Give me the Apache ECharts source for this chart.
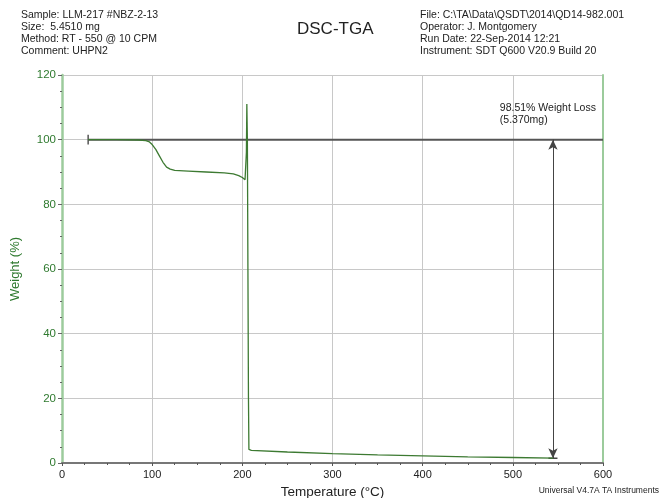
<!DOCTYPE html>
<html>
<head>
<meta charset="utf-8">
<script src="https://cdn.jsdelivr.net/npm/echarts@6/dist/echarts.min.js"></script>
<style>html,body{margin:0;padding:0;background:#fff}#c{width:663px;height:498px}</style>
</head>
<body>
<div id="c"></div>
<script>
// Data
var tempC =     [29, 60, 85, 93, 97, 100, 104, 108, 112, 116, 120, 125, 140, 160, 180, 190, 196, 200, 203, 204, 204.5, 205, 205.6, 206.2, 206.8, 207.3, 210, 250, 300, 350, 400, 450, 500, 545];
var weightPct = [100, 100, 99.9, 99.7, 99.3, 98.5, 97, 95, 93, 91.5, 90.9, 90.5, 90.3, 90.0, 89.7, 89.4, 88.9, 88.3, 87.6, 87.2, 96, 111, 100, 60, 20, 4.2, 3.9, 3.4, 2.9, 2.5, 2.2, 1.9, 1.7, 1.5];
var xTicks = [0, 100, 200, 300, 400, 500, 600];
var yTicks = [0, 20, 40, 60, 80, 100, 120];
var lossStartTemp = 29, lossEndTemp = 600, lossLevel = 100;
var arrowTemp = 544.5, residue = 1.49;
var headerLeft = ['Sample: LLM-217 #NBZ-2-13', 'Size:  5.4510 mg', 'Method: RT - 550 @ 10 CPM', 'Comment: UHPN2'];
var headerRight = ['File: C:\\TA\\Data\\QSDT\\2014\\QD14-982.001', 'Operator: J. Montgomery', 'Run Date: 22-Sep-2014 12:21', 'Instrument: SDT Q600 V20.9 Build 20'];
var annotation = '98.51% Weight Loss\n(5.370mg)';

var curve = tempC.map(function (t, i) { return [t, weightPct[i]]; });
var font = 'Liberation Sans, Arial, Helvetica, sans-serif';
var green = '#2f7a2f';

var chart = echarts.init(document.getElementById('c'), null, {renderer: 'canvas'});
var graphics = [];
headerLeft.forEach(function (s, i) {
  graphics.push({type: 'text', left: 21, top: 10 + i * 12, style: {text: s, font: '10.5px ' + font, fill: '#222'}});
});
headerRight.forEach(function (s, i) {
  graphics.push({type: 'text', left: 420, top: 10 + i * 12, style: {text: s, font: '10.5px ' + font, fill: '#222'}});
});
graphics.push({type: 'text', left: 297, top: 21, style: {text: 'DSC-TGA', font: '17px ' + font, fill: '#222'}});
graphics.push({type: 'text', right: 4, top: 486, style: {text: 'Universal V4.7A TA Instruments', font: '8.5px ' + font, fill: '#222'}});

chart.setOption({
  animation: false,
  graphic: graphics,
  grid: {left: 62, right: 60, top: 75, bottom: 35, containLabel: false, outerBoundsMode: 'none'},
  xAxis: {
    type: 'value', min: xTicks[0], max: xTicks[xTicks.length - 1], interval: 100,
    name: 'Temperature (°C)', nameLocation: 'middle', nameGap: 21,
    nameTextStyle: {fontFamily: font, fontSize: 13.5, color: '#222'},
    axisLine: {lineStyle: {color: '#777', width: 2}},
    axisTick: {show: true, length: 3, lineStyle: {color: '#555'}},
    minorTick: {show: true, splitNumber: 4, length: 2, lineStyle: {color: '#555'}},
    axisLabel: {fontFamily: font, fontSize: 11, color: '#222', margin: 6},
    splitLine: {show: true, lineStyle: {color: '#c8c8c8', width: 1}}
  },
  yAxis: [{
    type: 'value', min: yTicks[0], max: yTicks[yTicks.length - 1], interval: 20,
    name: 'Weight (%)', nameLocation: 'middle', nameGap: 40, nameRotate: 90,
    nameTextStyle: {fontFamily: font, fontSize: 13, color: green},
    axisLine: {show: true, lineStyle: {color: '#9ccb9c', width: 2.5}},
    axisTick: {show: true, length: 4, lineStyle: {color: '#666'}},
    minorTick: {show: true, splitNumber: 4, length: 2, lineStyle: {color: '#666'}},
    axisLabel: {fontFamily: font, fontSize: 11.5, color: green, margin: 6},
    splitLine: {show: true, lineStyle: {color: '#c8c8c8', width: 1}}
  }, {
    type: 'value', position: 'right', min: yTicks[0], max: yTicks[yTicks.length - 1], interval: 20,
    axisLine: {show: true, lineStyle: {color: '#9ccb9c', width: 2}},
    axisTick: {show: false}, axisLabel: {show: false}, splitLine: {show: false}
  }],
  series: [
    {
      type: 'line', data: [[lossStartTemp, lossLevel], [lossEndTemp, lossLevel]], showSymbol: false, silent: true,
      lineStyle: {color: '#555', width: 2}, z: 3
    },
    {
      type: 'line', data: [[lossStartTemp, lossLevel - 1.5], [lossStartTemp, lossLevel + 1.5]], showSymbol: false, silent: true,
      lineStyle: {color: '#555', width: 1.5}, z: 3
    },
    {
      type: 'line', data: [[arrowTemp - 5, residue], [arrowTemp + 5, residue]], showSymbol: false, silent: true,
      lineStyle: {color: '#444', width: 1.5}, z: 3
    },
    {
      type: 'line', data: curve, showSymbol: false, silent: true,
      lineStyle: {color: '#3d7a32', width: 1.3}, z: 4,
      markLine: {
        silent: true, symbol: ['arrow', 'arrow'], symbolSize: [7, 10],
        lineStyle: {color: '#444', width: 1, type: 'solid'}, label: {show: false},
        data: [[{coord: [arrowTemp, lossLevel]}, {coord: [arrowTemp, residue]}]]
      },
      markPoint: {
        silent: true, symbol: 'rect', symbolSize: 1, itemStyle: {color: 'rgba(0,0,0,0)'},
        data: [{coord: [485, 108], label: {show: true, formatter: annotation, position: 'right', distance: 0,
          fontFamily: font, fontSize: 10.5, color: '#222', lineHeight: 12, align: 'left'}}]
      }
    }
  ]
});
</script>
</body>
</html>
